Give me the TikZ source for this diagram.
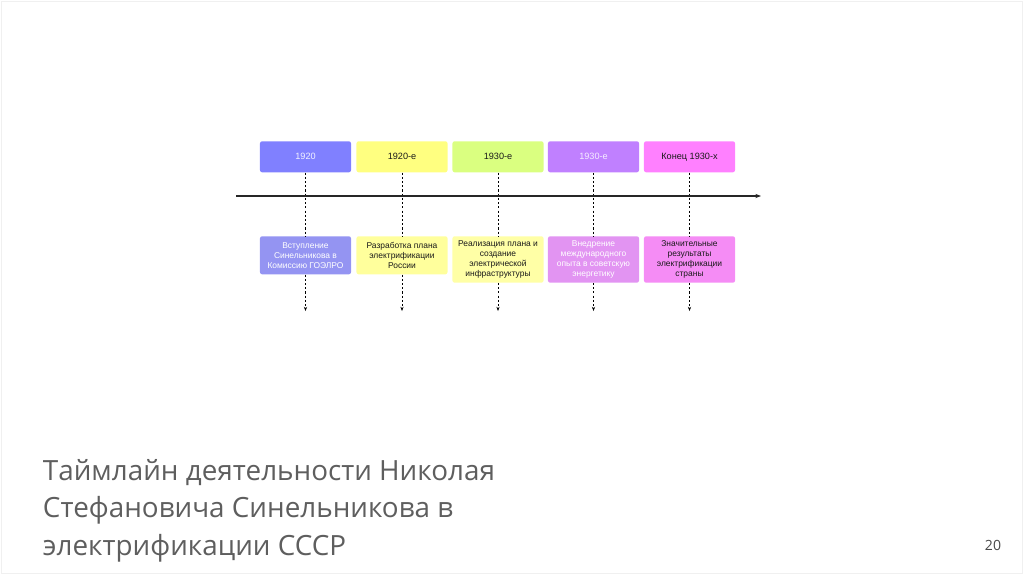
\documentclass[tikz,border=0pt]{standalone}
\usepackage{fontspec}
\setmainfont{Liberation Sans}
\newfontfamily\titlefont{Open Sans}
\usepackage{tikz}
\usepackage{xcolor}
\usetikzlibrary{arrows.meta, positioning, calc}
\definecolor{darktext}{HTML}{1A1A1A}
\definecolor{titlegray}{HTML}{5E5E5E}
\definecolor{topblue}{HTML}{8080FF}
\definecolor{topyellow}{HTML}{FFFF80}
\definecolor{topgreen}{HTML}{DAFF80}
\definecolor{toppurple}{HTML}{C080FF}
\definecolor{toppink}{HTML}{FF80FF}
\definecolor{lowblue}{HTML}{9494F2}
\definecolor{lowyellow}{HTML}{FFFF9C}
\definecolor{lowyellowb}{HTML}{FFFFA6}
\definecolor{lowpurple}{HTML}{E294F2}
\definecolor{lowpink}{HTML}{F58CF5}

\begin{document}
\begin{tikzpicture}[
            x=0.025cm, y=-0.025cm,
            topbox/.style={rounded corners=1.5pt, text=darktext, font=\fontsize{6.5}{8}\selectfont, minimum width=2.275cm, minimum height=0.775cm, inner sep=0pt, align=center, anchor=north},
            lowbox/.style={rounded corners=1.5pt, text=darktext, font=\fontsize{6}{7.2}\selectfont, minimum width=2.275cm, minimum height=0.95cm, inner xsep=0pt, inner ysep=3pt, align=center, anchor=north},
            guide/.style={dash pattern=on 1.5pt off 1.5pt, thin, black},
            arr/.style={-{Stealth[length=4pt]}, line width=1.2pt, black!85}
        ]
            \useasboundingbox (0,0) rectangle (1024,574);
            \draw[black!6] (1,1) rectangle (1022,573);
            % years
            \node[topbox, fill=topblue, text=white!90!topblue] (t1) at (305.5,141) {1920};
            \node[topbox, fill=topyellow] (t2) at (402,141) {1920-е};
            \node[topbox, fill=topgreen] (t3) at (498,141) {1930-е};
            \node[topbox, fill=toppurple, text=white!85!toppurple] (t4) at (593.5,141) {1930-е};
            \node[topbox, fill=toppink] (t5) at (689.5,141) {Конец 1930-х};
            % events
            \node[lowbox, fill=lowblue, text=white] (b1) at (305.5,236) {Вступление\\Синельникова в\\Комиссию ГОЭЛРО};
            \node[lowbox, fill=lowyellow] (b2) at (402,236) {Разработка плана\\электрификации\\России};
            \node[lowbox, fill=lowyellowb] (b3) at (498,236) {Реализация плана и\\создание\\электрической\\инфраструктуры};
            \node[lowbox, fill=lowpurple, text=white] (b4) at (593.5,236) {Внедрение\\международного\\опыта в советскую\\энергетику};
            \node[lowbox, fill=lowpink] (b5) at (689.5,236) {Значительные\\результаты\\электрификации\\страны};
            % axis
            \coordinate (start) at (236,196);
            \coordinate (stop) at (761,196);
            \foreach \i in {1,...,5} {
                \draw[guide] (t\i) -- (b\i);
                \coordinate (e\i) at (b\i |- 0,311);
                \draw[guide, -{Stealth[length=3pt]}] (b\i) -- (e\i);
            }
            \draw[arr] (start) -- (stop);
            \node[anchor=north west, align=left, text=titlegray, font=\titlefont\fontsize{19.8}{27}\selectfont] (title) at (38,454) {Таймлайн деятельности Николая\\Стефановича Синельникова в\\электрификации СССР};
            \node[text=darktext!80, font=\titlefont\fontsize{10}{12}\selectfont] (page) at (993,545) {20};
        \end{tikzpicture}
\end{document}
